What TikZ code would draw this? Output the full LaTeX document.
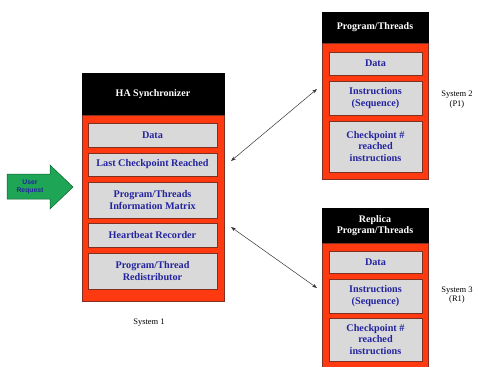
\documentclass[tikz,border=0pt]{standalone}
\usepackage{fontspec}
\setmainfont{Liberation Serif}
\setsansfont{Liberation Sans}
\usetikzlibrary{arrows.meta}
\definecolor{hred}{HTML}{FF3A10}
\definecolor{hborder}{HTML}{803020}
\definecolor{hgray}{HTML}{D9D9D9}
\definecolor{hblue}{HTML}{2424A0}
\definecolor{hgreen}{HTML}{1EA555}
\definecolor{hgreenb}{HTML}{106030}
\begin{document}
\begin{tikzpicture}[x=1pt,y=-1pt,
  hdr/.style={fill=black,draw=black,text=white,font=\bfseries\fontsize{10}{11.5}\selectfont,align=center,inner sep=0pt},
  redbox/.style={fill=hred,draw=hborder,line width=0.6pt,inner sep=0pt},
  item/.style={fill=hgray,draw=hborder,line width=0.6pt,text=hblue,font=\bfseries\fontsize{10.2}{11.5}\selectfont,align=center,inner sep=0pt},
  syslbl/.style={font=\fontsize{8.5}{9.5}\selectfont,align=center},
  conn/.style={draw=black!80,line width=0.5pt,{Stealth[length=5pt,width=3.5pt]}-{Stealth[length=5pt,width=3.5pt]}}]
\useasboundingbox (0,0) rectangle (483,367);
% Left block
\node[hdr,minimum width=142pt,minimum height=42pt] (h1) at (153,94) {HA Synchronizer};
\node[redbox,minimum width=142pt,minimum height=186pt] (r1) at (153,208) {};
\node[item,minimum width=129pt,minimum height=24pt] (d1) at (152.5,135) {Data};
\node[item,minimum width=129pt,minimum height=23pt] (l1) at (152.5,164.5) {Last Checkpoint Reached};
\node[item,minimum width=129pt,minimum height=36pt] (p1) at (152.5,200) {Program/Threads\\Information Matrix};
\node[item,minimum width=129pt,minimum height=24pt] (hb1) at (152.5,235) {Heartbeat Recorder};
\node[item,minimum width=129pt,minimum height=36pt] (rd1) at (152.5,271) {Program/Thread\\Redistributor};
\node[syslbl] (s1) at (149,323) {System 1};
% Right block 1
\node[hdr,minimum width=106pt,minimum height=31pt] (h2) at (375,27.5) {Program/Threads};
\node[redbox,minimum width=106pt,minimum height=136pt] (r2) at (375,111) {};
\node[item,minimum width=93pt,minimum height=23pt] (d2) at (375.5,63.5) {Data};
\node[item,minimum width=93pt,minimum height=34pt] (i2) at (375.5,98) {Instructions\\(Sequence)};
\node[item,minimum width=93pt,minimum height=51pt] (c2) at (375.5,146.5) {Checkpoint \#\\reached\\instructions};
\node[syslbl] (s2) at (457,99.5) {System 2\\(P1)};
% Right block 2
\node[hdr,minimum width=106pt,minimum height=35pt] (h3) at (375,225.5) {Replica\\Program/Threads};
\begin{scope}
\clip (0,0) rectangle (483,367);
\node[redbox,minimum width=106pt,minimum height=128pt] (r3) at (375,307) {};
\end{scope}
\node[item,minimum width=93pt,minimum height=22pt] (d3) at (375.5,262) {Data};
\node[item,minimum width=93pt,minimum height=34pt] (i3) at (375.5,296) {Instructions\\(Sequence)};
\node[item,minimum width=93pt,minimum height=43pt] (c3) at (375.5,339.5) {Checkpoint \#\\reached\\instructions};
\node[syslbl] (s3) at (457,295) {System 3\\(R1)};
% Connectors
\coordinate (a1) at (231,161);
\coordinate (b1) at (317,89);
\coordinate (a2) at (231,227);
\coordinate (b2) at (317,288);
\draw[conn] (a1) -- (b1);
\draw[conn] (a2) -- (b2);
% User request arrow
\draw[fill=hgreen,draw=hgreenb,line width=0.5pt] (7,174) -- (50,174) -- (50,165) -- (73,187) -- (50,209) -- (50,199) -- (7,199) -- cycle;
\node[font=\sffamily\bfseries\fontsize{6.8}{8}\selectfont,text=hblue,align=center] (ur) at (30,186.5) {User\\Request};
\end{tikzpicture}
\end{document}
